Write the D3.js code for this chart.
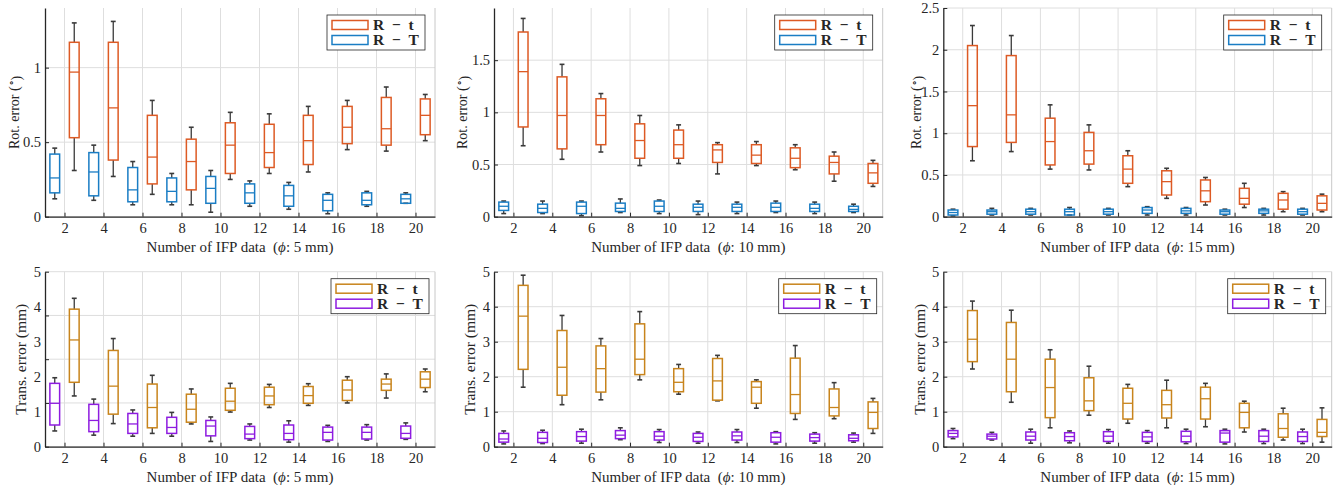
<!DOCTYPE html>
<html>
<head>
<meta charset="utf-8">
<script src="https://cdn.jsdelivr.net/npm/d3@7"></script>
<style>
  body { margin: 0; background: #fff; }
  svg text { font-family: "Liberation Serif", "Times New Roman", serif; fill: #262626; }
</style>
</head>
<body>
<svg id="chart" width="1343" height="485"></svg>
<script>
// Number of IFP data (x categories)
const nValues = [2, 4, 6, 8, 10, 12, 14, 16, 18, 20];

// each row: [lower whisker, q1, median, q3, upper whisker]
// rotation error, phi 5 mm
const rot5_Rt = [[0.31,0.53,0.97,1.17,1.30],[0.27,0.38,0.73,1.17,1.31],[0.15,0.22,0.40,0.68,0.78],[0.08,0.18,0.37,0.52,0.60],[0.25,0.29,0.48,0.63,0.70],[0.29,0.33,0.43,0.62,0.69],[0.30,0.35,0.51,0.68,0.74],[0.45,0.49,0.60,0.74,0.78],[0.44,0.48,0.59,0.80,0.87],[0.51,0.55,0.68,0.79,0.82]];
const rot5_RT = [[0.12,0.16,0.26,0.42,0.46],[0.11,0.14,0.30,0.43,0.48],[0.08,0.10,0.18,0.33,0.37],[0.08,0.10,0.17,0.26,0.29],[0.03,0.09,0.19,0.27,0.31],[0.07,0.09,0.16,0.22,0.24],[0.05,0.07,0.14,0.21,0.23],[0.02,0.04,0.11,0.15,0.16],[0.07,0.08,0.11,0.16,0.17],[0.09,0.09,0.12,0.15,0.16]];
// rotation error, phi 10 mm
const rot10_Rt = [[0.68,0.86,1.39,1.77,1.90],[0.55,0.65,0.97,1.34,1.46],[0.62,0.69,0.97,1.13,1.18],[0.49,0.56,0.73,0.89,0.97],[0.51,0.56,0.69,0.83,0.88],[0.41,0.52,0.64,0.69,0.71],[0.49,0.51,0.59,0.69,0.72],[0.45,0.47,0.56,0.66,0.69],[0.34,0.41,0.52,0.58,0.62],[0.29,0.32,0.42,0.51,0.54]];
const rot10_RT = [[0.03,0.06,0.10,0.14,0.15],[0.03,0.04,0.08,0.12,0.15],[0.01,0.03,0.10,0.14,0.15],[0.04,0.05,0.08,0.13,0.17],[0.03,0.05,0.10,0.15,0.16],[0.02,0.05,0.09,0.12,0.15],[0.03,0.05,0.09,0.12,0.14],[0.04,0.05,0.09,0.13,0.15],[0.03,0.05,0.08,0.12,0.14],[0.04,0.05,0.07,0.10,0.12]];
// rotation error, phi 15 mm
const rot15_Rt = [[0.67,0.84,1.33,2.05,2.29],[0.78,0.89,1.22,1.93,2.17],[0.57,0.62,0.90,1.18,1.34],[0.56,0.63,0.79,1.01,1.10],[0.36,0.40,0.57,0.73,0.79],[0.22,0.26,0.42,0.55,0.58],[0.14,0.18,0.31,0.44,0.47],[0.11,0.15,0.22,0.34,0.40],[0.06,0.09,0.20,0.28,0.30],[0.06,0.08,0.16,0.25,0.27]];
const rot15_RT = [[0.01,0.02,0.05,0.08,0.09],[0.02,0.03,0.06,0.08,0.10],[0.02,0.03,0.06,0.09,0.10],[0.02,0.02,0.06,0.09,0.11],[0.02,0.03,0.06,0.09,0.10],[0.02,0.04,0.08,0.11,0.12],[0.02,0.04,0.07,0.10,0.11],[0.02,0.03,0.06,0.08,0.09],[0.02,0.04,0.07,0.09,0.10],[0.02,0.03,0.06,0.09,0.10]];
// translation error, phi 5 mm
const trans5_Rt = [[1.45,1.84,3.05,3.93,4.24],[0.66,0.93,1.73,2.75,3.09],[0.38,0.54,1.12,1.79,2.04],[0.65,0.70,1.07,1.50,1.65],[0.99,1.04,1.30,1.67,1.81],[1.12,1.20,1.45,1.70,1.78],[1.18,1.24,1.46,1.72,1.80],[1.25,1.32,1.62,1.90,2.00],[1.39,1.61,1.79,1.93,2.08],[1.57,1.69,1.93,2.14,2.22]];
const trans5_RT = [[0.45,0.62,1.24,1.81,1.97],[0.33,0.43,0.75,1.21,1.36],[0.30,0.38,0.65,0.95,1.05],[0.30,0.38,0.55,0.84,0.98],[0.15,0.31,0.59,0.75,0.85],[0.19,0.23,0.36,0.58,0.65],[0.13,0.20,0.38,0.62,0.74],[0.15,0.19,0.41,0.56,0.61],[0.19,0.22,0.41,0.56,0.63],[0.21,0.24,0.38,0.59,0.68]];
// translation error, phi 10 mm
const trans10_Rt = [[1.70,2.21,3.73,4.61,4.90],[1.20,1.47,2.27,3.32,3.75],[1.34,1.56,2.23,2.88,3.09],[1.91,2.06,2.50,3.51,3.86],[1.50,1.57,1.84,2.23,2.35],[1.31,1.33,1.88,2.52,2.61],[1.10,1.24,1.70,1.86,1.91],[0.78,0.95,1.49,2.53,2.89],[0.80,0.88,1.12,1.65,1.83],[0.38,0.52,0.98,1.28,1.38]];
const trans10_RT = [[0.08,0.13,0.22,0.38,0.45],[0.09,0.12,0.24,0.41,0.47],[0.10,0.16,0.29,0.43,0.50],[0.20,0.23,0.33,0.46,0.54],[0.12,0.19,0.30,0.43,0.49],[0.10,0.15,0.27,0.38,0.42],[0.12,0.19,0.31,0.42,0.49],[0.08,0.13,0.27,0.40,0.43],[0.10,0.16,0.26,0.36,0.40],[0.13,0.17,0.24,0.34,0.39]];
// translation error, phi 15 mm
const trans15_Rt = [[2.22,2.43,3.07,3.89,4.16],[1.27,1.57,2.50,3.55,3.90],[0.54,0.83,1.69,2.50,2.77],[0.90,1.03,1.31,1.97,2.30],[0.67,0.79,1.24,1.67,1.78],[0.54,0.82,1.20,1.61,1.90],[0.57,0.79,1.37,1.70,1.81],[0.42,0.54,0.98,1.24,1.30],[0.19,0.27,0.52,0.94,1.10],[0.13,0.29,0.41,0.78,1.11]];
const trans15_RT = [[0.23,0.28,0.38,0.46,0.52],[0.19,0.22,0.30,0.36,0.41],[0.10,0.19,0.30,0.42,0.50],[0.11,0.17,0.29,0.40,0.45],[0.10,0.15,0.30,0.43,0.49],[0.10,0.15,0.28,0.41,0.46],[0.09,0.14,0.30,0.44,0.50],[0.08,0.13,0.39,0.46,0.50],[0.09,0.15,0.30,0.46,0.50],[0.09,0.15,0.29,0.42,0.50]];

// y tick labels and grid lines per panel
const rot5Ticks = [0, 0.5, 1];
const rot10Ticks = [0, 0.5, 1, 1.5];
const rot15Ticks = [0, 0.5, 1, 1.5, 2, 2.5];
const transTicks = [0, 1, 2, 3, 4, 5];
const trans5Grid = [0, 1.25, 2.5, 3.75, 5];

const diameters = ["5", "10", "15"];
const seriesNames = ["R\u2002\u2212\u2002t", "R\u2002\u2212\u2002T"];

const svg = d3.select("#chart");

// Layout in pixels
const cols = [[45, 435], [494, 882.7], [943.3, 1331.7]];
const rows = [[8, 216.7], [271.7, 446.7]];
const ylabelOffset = [[31, 32, 27], [24, 24, 24]];

const panels = [
  {r: 0, c: 0, Rt: rot5_Rt, RT: rot5_RT, ymax: 1.4, ticks: rot5Ticks, grid: rot5Ticks, kind: "rot"},
  {r: 0, c: 1, Rt: rot10_Rt, RT: rot10_RT, ymax: 2.0, ticks: rot10Ticks, grid: rot10Ticks, kind: "rot"},
  {r: 0, c: 2, Rt: rot15_Rt, RT: rot15_RT, ymax: 2.5, ticks: rot15Ticks, grid: rot15Ticks, kind: "rot"},
  {r: 1, c: 0, Rt: trans5_Rt, RT: trans5_RT, ymax: 5, ticks: transTicks, grid: trans5Grid, kind: "trans"},
  {r: 1, c: 1, Rt: trans10_Rt, RT: trans10_RT, ymax: 5, ticks: transTicks, grid: transTicks, kind: "trans"},
  {r: 1, c: 2, Rt: trans15_Rt, RT: trans15_RT, ymax: 5, ticks: transTicks, grid: transTicks, kind: "trans"}
];

const colors = {
  rot: ["#DD5A24", "#1A7DC4"],
  trans: ["#C8841C", "#8E1CE0"]
};

panels.forEach(p => {
  const [x0, x1] = cols[p.c];
  const [y0, y1] = rows[p.r];
  const [colRt, colRT] = colors[p.kind];

  const x = d3.scaleLinear().domain([1, 21]).range([x0, x1]);
  const y = d3.scaleLinear().domain([0, p.ymax]).range([y1, y0]);

  const g = svg.append("g");

  // grid
  g.append("g").selectAll("line").data(p.grid).enter().append("line")
    .attr("x1", x0).attr("x2", x1)
    .attr("y1", d => y(d)).attr("y2", d => y(d))
    .attr("stroke", "#dedede").attr("stroke-width", 1);
  g.append("g").selectAll("line").data(nValues).enter().append("line")
    .attr("x1", d => x(d)).attr("x2", d => x(d))
    .attr("y1", y0).attr("y2", y1)
    .attr("stroke", "#dedede").attr("stroke-width", 1);

  // right border
  g.append("line")
    .attr("x1", x1).attr("x2", x1).attr("y1", y0).attr("y2", y1)
    .attr("stroke", "#c8c8c8").attr("stroke-width", 1);

  const boxW = x(1.5) - x(1);
  const capW = x(1.25) - x(1);

  const drawBoxes = (data, offset, color) => {
    const bg = g.append("g").selectAll("g").data(data).enter().append("g");
    const cx = (d, i) => x(nValues[i] + offset);
    // whiskers
    bg.append("line")
      .attr("x1", cx).attr("x2", cx)
      .attr("y1", d => y(d[3])).attr("y2", d => y(d[4]))
      .attr("stroke", "#3a3a3a").attr("stroke-width", 1.3);
    bg.append("line")
      .attr("x1", cx).attr("x2", cx)
      .attr("y1", d => y(d[1])).attr("y2", d => y(d[0]))
      .attr("stroke", "#3a3a3a").attr("stroke-width", 1.3);
    bg.append("line")
      .attr("x1", (d, i) => cx(d, i) - capW / 2).attr("x2", (d, i) => cx(d, i) + capW / 2)
      .attr("y1", d => y(d[4])).attr("y2", d => y(d[4]))
      .attr("stroke", "#3a3a3a").attr("stroke-width", 1.6);
    bg.append("line")
      .attr("x1", (d, i) => cx(d, i) - capW / 2).attr("x2", (d, i) => cx(d, i) + capW / 2)
      .attr("y1", d => y(d[0])).attr("y2", d => y(d[0]))
      .attr("stroke", "#3a3a3a").attr("stroke-width", 1.6);
    // box
    bg.append("rect")
      .attr("x", (d, i) => cx(d, i) - boxW / 2)
      .attr("y", d => y(d[3]))
      .attr("width", boxW)
      .attr("height", d => y(d[1]) - y(d[3]))
      .attr("fill", "none")
      .attr("stroke", color).attr("stroke-width", 1.5);
    // median
    bg.append("line")
      .attr("x1", (d, i) => cx(d, i) - boxW / 2).attr("x2", (d, i) => cx(d, i) + boxW / 2)
      .attr("y1", d => y(d[2])).attr("y2", d => y(d[2]))
      .attr("stroke", color).attr("stroke-width", 1.3);
  };

  drawBoxes(p.RT, -0.5, colRT);
  drawBoxes(p.Rt, 0.5, colRt);

  // axes: tick marks on grid values, labels on tick values
  const yTickAxis = d3.axisLeft(y).tickValues(p.grid).tickSize(-4).tickSizeOuter(0).tickFormat("");
  const yLabelAxis = d3.axisLeft(y).tickValues(p.ticks).tickSize(0).tickPadding(4).tickFormat(d3.format("~g"));
  const xAxis = d3.axisBottom(x).tickValues(nValues).tickSize(-4).tickSizeOuter(0).tickPadding(6);

  const ya = g.append("g").attr("transform", `translate(${x0},0)`).call(yTickAxis);
  ya.select(".domain").attr("stroke", "#262626").attr("stroke-width", 1.3);
  ya.selectAll(".tick line").attr("stroke", "#262626");
  const yl = g.append("g").attr("transform", `translate(${x0},0)`).call(yLabelAxis);
  yl.select(".domain").remove();
  yl.selectAll("text").style("font-size", "14.5px").attr("fill", "#262626");

  const xa = g.append("g").attr("transform", `translate(0,${y1})`).call(xAxis);
  xa.select(".domain").attr("stroke", "#262626").attr("stroke-width", 1.3);
  xa.selectAll(".tick line").attr("stroke", "#262626");
  xa.selectAll("text").style("font-size", "14.5px").attr("fill", "#262626");

  // x label
  const xl = g.append("text")
    .attr("x", (x0 + x1) / 2)
    .attr("y", y1 + 35)
    .attr("text-anchor", "middle")
    .style("font-size", "15px");
  xl.append("tspan").text("Number of IFP data\u00a0\u00a0(");
  xl.append("tspan").style("font-style", "italic").text("\u03d5");
  xl.append("tspan").text(`: ${diameters[p.c]} mm)`);

  // y label
  const yt = g.append("text")
    .attr("transform", `translate(${x0 - ylabelOffset[p.r][p.c]},${(y0 + y1) / 2}) rotate(-90)`)
    .attr("text-anchor", "middle")
    .attr("dy", "0.35em")
    .style("font-size", p.kind === "rot" ? "14px" : "15.5px");
  if (p.kind === "rot") {
    yt.append("tspan").text("Rot. error (");
    yt.append("tspan").attr("dy", "-0.45em").style("font-size", "10px").text("\u2218");
    yt.append("tspan").attr("dy", "0.45em").text(")");
  } else {
    yt.text("Trans. error (mm)");
  }

  // legend
  const lw = 98, lh = 35;
  const lx = x1 - (p.r === 0 ? 10 : 6) - lw;
  const ly = y0 + 7;
  const lg = g.append("g").attr("transform", `translate(${lx},${ly})`);
  lg.append("rect")
    .attr("width", lw).attr("height", lh)
    .attr("fill", "#fff").attr("stroke", "#262626").attr("stroke-width", 0.8);
  [colRt, colRT].forEach((col, i) => {
    const cy = 10 + i * 15;
    lg.append("rect")
      .attr("x", 5).attr("y", cy - 4.5)
      .attr("width", 36).attr("height", 9)
      .attr("fill", "none").attr("stroke", col).attr("stroke-width", 1.5);
    lg.append("text")
      .attr("x", 46).attr("y", cy)
      .attr("dy", "0.35em")
      .style("font-size", "15.5px")
      .style("font-weight", "bold")
      .text(seriesNames[i]);
  });
});
</script>
</body>
</html>
